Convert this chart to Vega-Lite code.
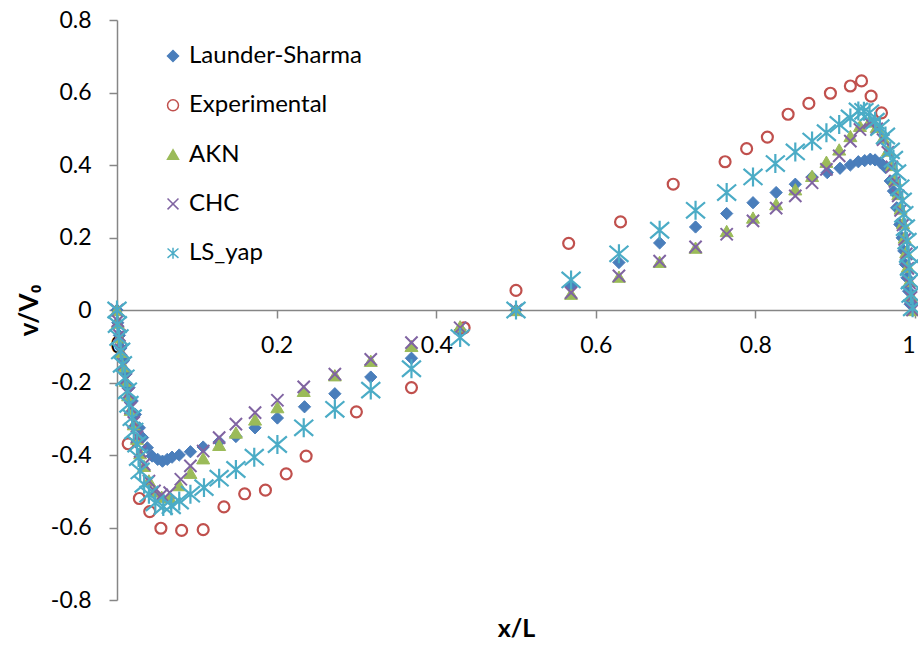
{
  "$schema": "https://vega.github.io/schema/vega-lite/v6.json",
  "width": 798,
  "height": 580,
  "autosize": "none",
  "padding": {"left": 117, "top": 20, "right": 3, "bottom": 48},
  "background": "white",
  "config": {
    "view": {"stroke": null},
    "font": "Lato",
    "axis": {"grid": false, "domainColor": "#868686", "tickColor": "#868686", "domainWidth": 1.5, "tickWidth": 1.5, "labelColor": "black", "titleColor": "black", "labelFont": "Lato", "titleFont": "Lato"},
    "legend": {"labelFont": "Lato", "labelFontSize": 24, "labelColor": "black", "labelLimit": 400, "symbolSize": 120, "symbolStrokeWidth": 1.5, "rowPadding": 25.3, "labelOffset": 4}
  },
  "data": {"values": [
    {"s":"Launder-Sharma","x":0,"y":0},{"s":"Launder-Sharma","x":0.001,"y":-0.035},{"s":"Launder-Sharma","x":0.003,"y":-0.07},{"s":"Launder-Sharma","x":0.005,"y":-0.105},{"s":"Launder-Sharma","x":0.008,"y":-0.14},{"s":"Launder-Sharma","x":0.011,"y":-0.177},{"s":"Launder-Sharma","x":0.015,"y":-0.214},{"s":"Launder-Sharma","x":0.019,"y":-0.251},{"s":"Launder-Sharma","x":0.023,"y":-0.288},{"s":"Launder-Sharma","x":0.028,"y":-0.325},{"s":"Launder-Sharma","x":0.032,"y":-0.352},{"s":"Launder-Sharma","x":0.038,"y":-0.38},{"s":"Launder-Sharma","x":0.044,"y":-0.403},{"s":"Launder-Sharma","x":0.051,"y":-0.412},{"s":"Launder-Sharma","x":0.057,"y":-0.417},{"s":"Launder-Sharma","x":0.063,"y":-0.412},{"s":"Launder-Sharma","x":0.069,"y":-0.406},{"s":"Launder-Sharma","x":0.078,"y":-0.4},{"s":"Launder-Sharma","x":0.092,"y":-0.391},{"s":"Launder-Sharma","x":0.108,"y":-0.378},{"s":"Launder-Sharma","x":0.128,"y":-0.364},{"s":"Launder-Sharma","x":0.149,"y":-0.349},{"s":"Launder-Sharma","x":0.173,"y":-0.325},{"s":"Launder-Sharma","x":0.201,"y":-0.298},{"s":"Launder-Sharma","x":0.235,"y":-0.267},{"s":"Launder-Sharma","x":0.273,"y":-0.231},{"s":"Launder-Sharma","x":0.318,"y":-0.185},{"s":"Launder-Sharma","x":0.369,"y":-0.133},{"s":"Launder-Sharma","x":0.43,"y":-0.055},{"s":"Launder-Sharma","x":0.5,"y":0},{"s":"Launder-Sharma","x":0.569,"y":0.066},{"s":"Launder-Sharma","x":0.629,"y":0.131},{"s":"Launder-Sharma","x":0.68,"y":0.185},{"s":"Launder-Sharma","x":0.725,"y":0.229},{"s":"Launder-Sharma","x":0.764,"y":0.266},{"s":"Launder-Sharma","x":0.797,"y":0.296},{"s":"Launder-Sharma","x":0.826,"y":0.324},{"s":"Launder-Sharma","x":0.85,"y":0.347},{"s":"Launder-Sharma","x":0.871,"y":0.367},{"s":"Launder-Sharma","x":0.89,"y":0.379},{"s":"Launder-Sharma","x":0.906,"y":0.391},{"s":"Launder-Sharma","x":0.919,"y":0.4},{"s":"Launder-Sharma","x":0.929,"y":0.409},{"s":"Launder-Sharma","x":0.937,"y":0.412},{"s":"Launder-Sharma","x":0.944,"y":0.416},{"s":"Launder-Sharma","x":0.95,"y":0.414},{"s":"Launder-Sharma","x":0.957,"y":0.406},{"s":"Launder-Sharma","x":0.963,"y":0.393},{"s":"Launder-Sharma","x":0.969,"y":0.356},{"s":"Launder-Sharma","x":0.973,"y":0.328},{"s":"Launder-Sharma","x":0.977,"y":0.282},{"s":"Launder-Sharma","x":0.981,"y":0.236},{"s":"Launder-Sharma","x":0.984,"y":0.199},{"s":"Launder-Sharma","x":0.986,"y":0.163},{"s":"Launder-Sharma","x":0.988,"y":0.126},{"s":"Launder-Sharma","x":0.99,"y":0.089},{"s":"Launder-Sharma","x":0.992,"y":0.052},{"s":"Launder-Sharma","x":0.994,"y":0.016},
    {"s":"Experimental","x":0.014,"y":-0.369},{"s":"Experimental","x":0.028,"y":-0.52},{"s":"Experimental","x":0.041,"y":-0.556},{"s":"Experimental","x":0.055,"y":-0.602},{"s":"Experimental","x":0.081,"y":-0.608},{"s":"Experimental","x":0.108,"y":-0.606},{"s":"Experimental","x":0.134,"y":-0.543},{"s":"Experimental","x":0.16,"y":-0.507},{"s":"Experimental","x":0.186,"y":-0.497},{"s":"Experimental","x":0.212,"y":-0.452},{"s":"Experimental","x":0.237,"y":-0.403},{"s":"Experimental","x":0.3,"y":-0.281},{"s":"Experimental","x":0.369,"y":-0.214},{"s":"Experimental","x":0.435,"y":-0.049},{"s":"Experimental","x":0.5,"y":0.054},{"s":"Experimental","x":0.566,"y":0.184},{"s":"Experimental","x":0.631,"y":0.243},{"s":"Experimental","x":0.697,"y":0.347},{"s":"Experimental","x":0.762,"y":0.409},{"s":"Experimental","x":0.789,"y":0.445},{"s":"Experimental","x":0.815,"y":0.477},{"s":"Experimental","x":0.841,"y":0.54},{"s":"Experimental","x":0.867,"y":0.57},{"s":"Experimental","x":0.894,"y":0.598},{"s":"Experimental","x":0.919,"y":0.618},{"s":"Experimental","x":0.933,"y":0.632},{"s":"Experimental","x":0.945,"y":0.59},{"s":"Experimental","x":0.958,"y":0.544},
    {"s":"AKN","x":0,"y":0},{"s":"AKN","x":0.001,"y":-0.035},{"s":"AKN","x":0.003,"y":-0.075},{"s":"AKN","x":0.005,"y":-0.115},{"s":"AKN","x":0.008,"y":-0.155},{"s":"AKN","x":0.011,"y":-0.195},{"s":"AKN","x":0.014,"y":-0.235},{"s":"AKN","x":0.017,"y":-0.275},{"s":"AKN","x":0.021,"y":-0.315},{"s":"AKN","x":0.025,"y":-0.355},{"s":"AKN","x":0.029,"y":-0.395},{"s":"AKN","x":0.034,"y":-0.43},{"s":"AKN","x":0.04,"y":-0.47},{"s":"AKN","x":0.047,"y":-0.5},{"s":"AKN","x":0.056,"y":-0.515},{"s":"AKN","x":0.066,"y":-0.517},{"s":"AKN","x":0.078,"y":-0.483},{"s":"AKN","x":0.092,"y":-0.449},{"s":"AKN","x":0.108,"y":-0.409},{"s":"AKN","x":0.128,"y":-0.372},{"s":"AKN","x":0.149,"y":-0.338},{"s":"AKN","x":0.173,"y":-0.302},{"s":"AKN","x":0.201,"y":-0.268},{"s":"AKN","x":0.234,"y":-0.223},{"s":"AKN","x":0.273,"y":-0.18},{"s":"AKN","x":0.318,"y":-0.14},{"s":"AKN","x":0.369,"y":-0.099},{"s":"AKN","x":0.43,"y":-0.045},{"s":"AKN","x":0.5,"y":0},{"s":"AKN","x":0.569,"y":0.045},{"s":"AKN","x":0.629,"y":0.092},{"s":"AKN","x":0.68,"y":0.133},{"s":"AKN","x":0.725,"y":0.172},{"s":"AKN","x":0.764,"y":0.218},{"s":"AKN","x":0.797,"y":0.255},{"s":"AKN","x":0.826,"y":0.292},{"s":"AKN","x":0.85,"y":0.333},{"s":"AKN","x":0.871,"y":0.37},{"s":"AKN","x":0.889,"y":0.409},{"s":"AKN","x":0.905,"y":0.443},{"s":"AKN","x":0.919,"y":0.48},{"s":"AKN","x":0.931,"y":0.508},{"s":"AKN","x":0.943,"y":0.52},{"s":"AKN","x":0.952,"y":0.505},{"s":"AKN","x":0.96,"y":0.475},{"s":"AKN","x":0.966,"y":0.44},{"s":"AKN","x":0.971,"y":0.4},{"s":"AKN","x":0.975,"y":0.36},{"s":"AKN","x":0.979,"y":0.32},{"s":"AKN","x":0.982,"y":0.28},{"s":"AKN","x":0.985,"y":0.24},{"s":"AKN","x":0.987,"y":0.2},{"s":"AKN","x":0.989,"y":0.16},{"s":"AKN","x":0.991,"y":0.12},{"s":"AKN","x":0.993,"y":0.08},{"s":"AKN","x":0.995,"y":0.04},{"s":"AKN","x":0.997,"y":0},
    {"s":"CHC","x":0,"y":0},{"s":"CHC","x":0.001,"y":-0.03},{"s":"CHC","x":0.003,"y":-0.07},{"s":"CHC","x":0.005,"y":-0.11},{"s":"CHC","x":0.008,"y":-0.15},{"s":"CHC","x":0.011,"y":-0.19},{"s":"CHC","x":0.014,"y":-0.23},{"s":"CHC","x":0.017,"y":-0.27},{"s":"CHC","x":0.021,"y":-0.31},{"s":"CHC","x":0.025,"y":-0.35},{"s":"CHC","x":0.029,"y":-0.39},{"s":"CHC","x":0.034,"y":-0.426},{"s":"CHC","x":0.04,"y":-0.472},{"s":"CHC","x":0.047,"y":-0.499},{"s":"CHC","x":0.056,"y":-0.51},{"s":"CHC","x":0.066,"y":-0.504},{"s":"CHC","x":0.08,"y":-0.467},{"s":"CHC","x":0.092,"y":-0.43},{"s":"CHC","x":0.108,"y":-0.389},{"s":"CHC","x":0.128,"y":-0.352},{"s":"CHC","x":0.149,"y":-0.315},{"s":"CHC","x":0.173,"y":-0.283},{"s":"CHC","x":0.201,"y":-0.249},{"s":"CHC","x":0.234,"y":-0.212},{"s":"CHC","x":0.273,"y":-0.177},{"s":"CHC","x":0.318,"y":-0.136},{"s":"CHC","x":0.369,"y":-0.09},{"s":"CHC","x":0.43,"y":-0.049},{"s":"CHC","x":0.5,"y":0},{"s":"CHC","x":0.569,"y":0.048},{"s":"CHC","x":0.629,"y":0.094},{"s":"CHC","x":0.68,"y":0.135},{"s":"CHC","x":0.725,"y":0.174},{"s":"CHC","x":0.764,"y":0.209},{"s":"CHC","x":0.797,"y":0.246},{"s":"CHC","x":0.826,"y":0.281},{"s":"CHC","x":0.85,"y":0.315},{"s":"CHC","x":0.871,"y":0.351},{"s":"CHC","x":0.889,"y":0.388},{"s":"CHC","x":0.905,"y":0.425},{"s":"CHC","x":0.919,"y":0.466},{"s":"CHC","x":0.931,"y":0.498},{"s":"CHC","x":0.943,"y":0.517},{"s":"CHC","x":0.952,"y":0.5},{"s":"CHC","x":0.96,"y":0.47},{"s":"CHC","x":0.966,"y":0.435},{"s":"CHC","x":0.971,"y":0.395},{"s":"CHC","x":0.975,"y":0.355},{"s":"CHC","x":0.979,"y":0.315},{"s":"CHC","x":0.982,"y":0.275},{"s":"CHC","x":0.985,"y":0.235},{"s":"CHC","x":0.987,"y":0.195},{"s":"CHC","x":0.989,"y":0.155},{"s":"CHC","x":0.991,"y":0.115},{"s":"CHC","x":0.993,"y":0.075},{"s":"CHC","x":0.995,"y":0.035},{"s":"CHC","x":0.997,"y":0},
    {"s":"LS_yap","x":0,"y":0},{"s":"LS_yap","x":0.0005,"y":-0.04},{"s":"LS_yap","x":0.0025,"y":-0.076},{"s":"LS_yap","x":0.0046,"y":-0.113},{"s":"LS_yap","x":0.0068,"y":-0.15},{"s":"LS_yap","x":0.01,"y":-0.187},{"s":"LS_yap","x":0.013,"y":-0.223},{"s":"LS_yap","x":0.015,"y":-0.26},{"s":"LS_yap","x":0.019,"y":-0.297},{"s":"LS_yap","x":0.021,"y":-0.334},{"s":"LS_yap","x":0.025,"y":-0.37},{"s":"LS_yap","x":0.027,"y":-0.407},{"s":"LS_yap","x":0.029,"y":-0.444},{"s":"LS_yap","x":0.034,"y":-0.481},{"s":"LS_yap","x":0.04,"y":-0.508},{"s":"LS_yap","x":0.048,"y":-0.532},{"s":"LS_yap","x":0.058,"y":-0.542},{"s":"LS_yap","x":0.068,"y":-0.54},{"s":"LS_yap","x":0.078,"y":-0.527},{"s":"LS_yap","x":0.092,"y":-0.508},{"s":"LS_yap","x":0.109,"y":-0.49},{"s":"LS_yap","x":0.128,"y":-0.464},{"s":"LS_yap","x":0.149,"y":-0.44},{"s":"LS_yap","x":0.172,"y":-0.406},{"s":"LS_yap","x":0.201,"y":-0.371},{"s":"LS_yap","x":0.234,"y":-0.325},{"s":"LS_yap","x":0.273,"y":-0.274},{"s":"LS_yap","x":0.318,"y":-0.221},{"s":"LS_yap","x":0.369,"y":-0.162},{"s":"LS_yap","x":0.43,"y":-0.076},{"s":"LS_yap","x":0.5,"y":0},{"s":"LS_yap","x":0.569,"y":0.083},{"s":"LS_yap","x":0.629,"y":0.155},{"s":"LS_yap","x":0.68,"y":0.22},{"s":"LS_yap","x":0.725,"y":0.275},{"s":"LS_yap","x":0.764,"y":0.324},{"s":"LS_yap","x":0.797,"y":0.367},{"s":"LS_yap","x":0.825,"y":0.404},{"s":"LS_yap","x":0.85,"y":0.436},{"s":"LS_yap","x":0.871,"y":0.466},{"s":"LS_yap","x":0.889,"y":0.489},{"s":"LS_yap","x":0.905,"y":0.512},{"s":"LS_yap","x":0.919,"y":0.53},{"s":"LS_yap","x":0.929,"y":0.549},{"s":"LS_yap","x":0.936,"y":0.548},{"s":"LS_yap","x":0.943,"y":0.544},{"s":"LS_yap","x":0.95,"y":0.521},{"s":"LS_yap","x":0.956,"y":0.503},{"s":"LS_yap","x":0.963,"y":0.48},{"s":"LS_yap","x":0.969,"y":0.439},{"s":"LS_yap","x":0.973,"y":0.416},{"s":"LS_yap","x":0.977,"y":0.379},{"s":"LS_yap","x":0.981,"y":0.337},{"s":"LS_yap","x":0.984,"y":0.301},{"s":"LS_yap","x":0.986,"y":0.264},{"s":"LS_yap","x":0.988,"y":0.227},{"s":"LS_yap","x":0.99,"y":0.19},{"s":"LS_yap","x":0.992,"y":0.153},{"s":"LS_yap","x":0.993,"y":0.117},{"s":"LS_yap","x":0.994,"y":0.08},{"s":"LS_yap","x":0.995,"y":0.043},{"s":"LS_yap","x":0.997,"y":0.006}
  ]},
  "encoding": {
    "x": {"field": "x", "type": "quantitative", "scale": {"domain": [0, 1], "nice": false, "zero": false},
      "axis": {"values": [0, 0.2, 0.4, 0.6, 0.8, 1], "format": "~g", "offset": -290, "tickSize": 8, "labelPadding": 16, "labelFontSize": 23, "labelFlush": false,
        "labelAlign": {"condition": {"test": "datum.value == 1", "value": "right"}, "value": "center"},
        "title": "x/L", "titleFontSize": 25, "titleFontWeight": "bold", "titleY": 318, "titleBaseline": "middle"}},
    "y": {"field": "y", "type": "quantitative", "scale": {"domain": [-0.8, 0.8], "nice": false},
      "axis": {"values": [-0.8, -0.6, -0.4, -0.2, 0, 0.2, 0.4, 0.6, 0.8], "format": "~g", "labelExpr": "replace(datum.label, '\u2212', '-')", "tickSize": 8, "labelPadding": 18, "labelFontSize": 23, "title": "v/V₀", "titleFontSize": 26, "titleFontWeight": "bold", "titleX": -88, "titleY": 290, "titleAngle": -90, "titleAlign": "center", "titleBaseline": "middle"}},
    "shape": {"field": "s", "type": "nominal",
      "legend": {"title": null, "orient": "none", "legendX": 44, "legendY": 24, "padding": 0},
      "scale": {"domain": ["Launder-Sharma", "Experimental", "AKN", "CHC", "LS_yap"],
        "range": ["diamond", "circle", "triangle-up", "M-1,-1L1,1M-1,1L1,-1", "M-1,-0.85L1,0.85M-1,0.85L1,-0.85M0,-1L0,1"]}},
    "stroke": {"field": "s", "type": "nominal", "legend": {"title": null, "orient": "none", "legendX": 44, "legendY": 24, "padding": 0},
      "scale": {"domain": ["Launder-Sharma", "Experimental", "AKN", "CHC", "LS_yap"],
        "range": ["#4A7EBB", "#C0504D", "#9BBB59", "#8064A2", "#4BACC6"]}},
    "fill": {"field": "s", "type": "nominal", "legend": {"title": null, "orient": "none", "legendX": 44, "legendY": 24, "padding": 0},
      "scale": {"domain": ["Launder-Sharma", "Experimental", "AKN", "CHC", "LS_yap"],
        "range": ["#4A7EBB", "transparent", "#9BBB59", "transparent", "transparent"]}}
  },
  "layer": [
    {"transform": [{"filter": "datum.s == 'Launder-Sharma'"}], "mark": {"type": "point", "opacity": 1, "size": 150, "strokeWidth": 1}},
    {"transform": [{"filter": "datum.s == 'Experimental'"}], "mark": {"type": "point", "opacity": 1, "size": 120, "strokeWidth": 2.2}},
    {"transform": [{"filter": "datum.s == 'AKN'"}], "mark": {"type": "point", "opacity": 1, "size": 170, "strokeWidth": 1}},
    {"transform": [{"filter": "datum.s == 'CHC'"}], "mark": {"type": "point", "opacity": 1, "size": 150, "strokeWidth": 2}},
    {"transform": [{"filter": "datum.s == 'LS_yap'"}], "mark": {"type": "point", "opacity": 1, "size": 360, "strokeWidth": 2.2}}
  ]
}
